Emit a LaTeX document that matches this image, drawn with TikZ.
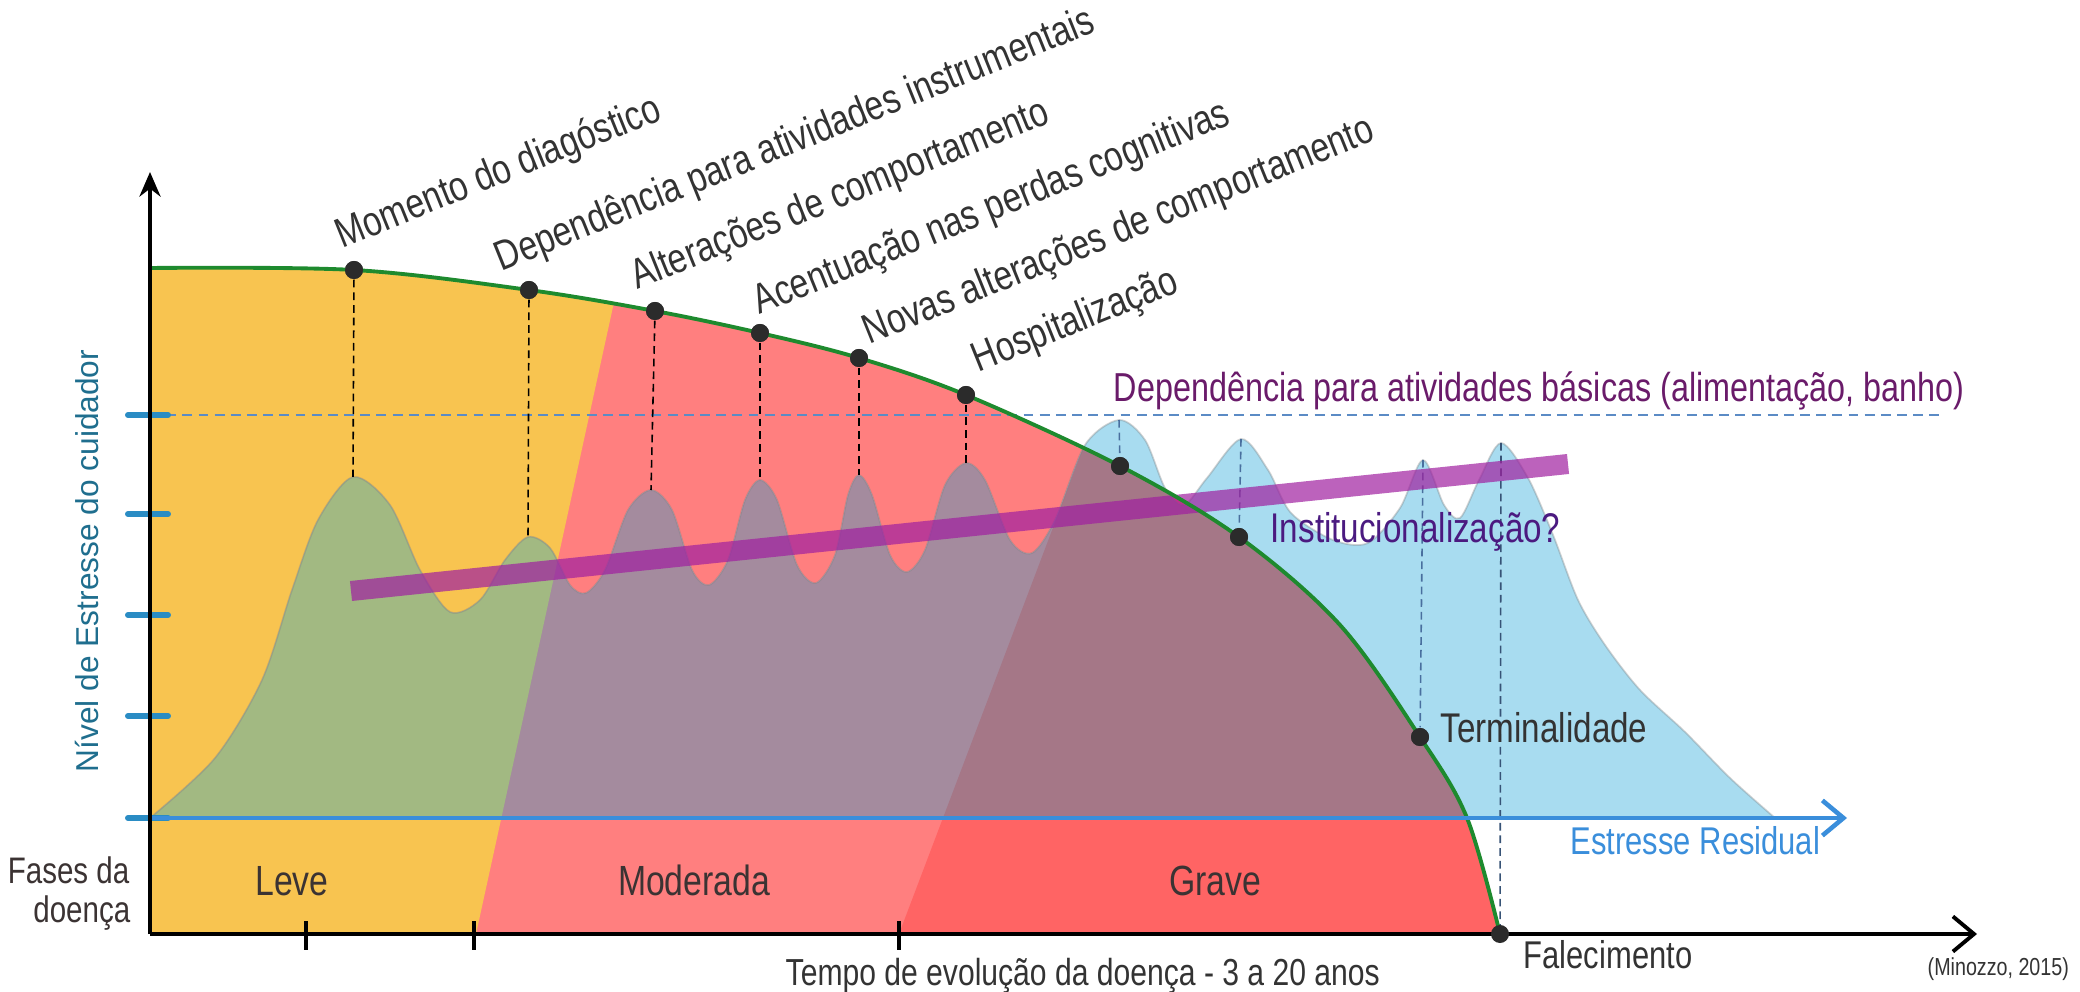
\documentclass[tikz,border=0pt]{standalone}
\usepackage{fontspec}
\setmainfont{Liberation Sans}
\newfontfamily\condfont[FakeStretch=0.8]{Liberation Sans}
\usepackage{tikz}
\usetikzlibrary{arrows.meta,positioning}
\usepackage{xcolor}
\definecolor{leve}{HTML}{F8C450}
\definecolor{moderada}{HTML}{FF7F7F}
\definecolor{grave}{HTML}{FF6464}
\definecolor{stressblue}{HTML}{A8DCF0}
\definecolor{stressgreen}{HTML}{A2B982}
\definecolor{stressmauve}{HTML}{A48B9E}
\definecolor{stressdark}{HTML}{A57787}
\definecolor{curvegreen}{HTML}{1E8A2E}
\definecolor{axisblue}{HTML}{3A8EDB}
\definecolor{tickblue}{HTML}{2A8CC4}
\definecolor{ylabelblue}{HTML}{1F6E8E}
\definecolor{dashblue}{HTML}{5B8BC5}
\definecolor{bandpurple}{HTML}{A020A0}
\definecolor{txtpurple}{HTML}{6A1B6A}
\definecolor{txtviolet}{HTML}{4B1A80}
\definecolor{txtdark}{HTML}{333333}
\definecolor{txtphase}{HTML}{3B3333}
\definecolor{dotgray}{HTML}{2B2B2B}
\newcommand{\lblfont}[1]{\condfont\fontsize{#1}{#1}\selectfont}

\begin{document}
\begin{tikzpicture}[x=0.01cm,y=-0.01cm,>={Straight Barb[length=6pt,width=10pt]},
  dot/.style={circle,fill=dotgray,inner sep=0pt,minimum size=0.18cm},
  evt/.style={rotate=22,anchor=base west,inner sep=0pt,font=\lblfont{11.9},text=txtdark},
  lbl/.style={anchor=base west,inner sep=0pt,font=\lblfont{11}},
  phase/.style={anchor=base,inner sep=0pt,font=\lblfont{12},text=txtphase}]
\useasboundingbox (0,0) rectangle (2080,992);

% curva da doenca e area de estresse
\def\greencurve{plot[smooth,tension=0.55] coordinates {(150,268) (354,270) (529,290) (655,311) (760,333) (859,358) (966,395) (1120,466) (1239,537) (1340,625) (1420,737) (1467,818) (1500,934)}}
\edef\areapath{(150,934) -- \greencurve -- cycle}
\def\stresspath{(150,818) -- plot[smooth,tension=0.5] coordinates {(150,818) (215,758) (262,680) (292,590) (318,520) (353,477) (390,505) (420,570) (450,612) (480,600) (505,560) (528,537) (550,548) (570,585) (586,593) (605,570) (628,510) (651,490) (672,510) (692,570) (709,585) (728,560) (745,500) (760,480) (777,500) (797,565) (816,583) (835,555) (848,495) (859,475) (872,495) (890,555) (907,572) (925,550) (945,485) (966,463) (985,480) (1010,540) (1032,553) (1055,520) (1085,445) (1119,420) (1145,440) (1165,488) (1184,505) (1207,478) (1241,439) (1268,470) (1291,513) (1333,540) (1368,543) (1400,508) (1423,460) (1444,505) (1460,518) (1479,480) (1501,443) (1528,478) (1553,535) (1578,600) (1605,645) (1640,690) (1685,732) (1730,778) (1775,818)} -- cycle}
\def\leveclip{(0,0) -- (680,0) -- (476,934) -- (0,934) -- cycle}
\def\graveclip{(1253,0) -- (899,934) -- (2080,934) -- (2080,0) -- cycle}

% fases
\fill[moderada] \areapath;
\begin{scope}
  \clip \leveclip;
  \fill[leve] \areapath;
\end{scope}
\begin{scope}
  \clip \graveclip;
  \fill[grave] \areapath;
\end{scope}

% estresse
\begin{scope}
  \clip \stresspath;
  \fill[stressblue] (0,0) rectangle (2080,992);
  \clip \areapath;
  \fill[stressmauve] (0,0) rectangle (2080,992);
  \begin{scope}
    \clip \leveclip;
    \fill[stressgreen] (0,0) rectangle (2080,992);
  \end{scope}
  \begin{scope}
    \clip \graveclip;
    \fill[stressdark] (0,0) rectangle (2080,992);
  \end{scope}
\end{scope}
\draw[gray,opacity=0.35,line width=0.5pt] \stresspath;

% eixo do estresse
\coordinate (origin) at (150,818);
\coordinate (resid) at (1847,818);
\coordinate (ytop) at (150,415);
\coordinate (dashend) at (1940,415);
\draw[dashblue,line width=0.6pt,dash pattern=on 2.8pt off 1.8pt] (ytop) -- (dashend);

\foreach \y in {415,514,615,716,818}
  \draw[tickblue,line width=1.7pt,line cap=round] (128,\y) -- (168,\y);

% eventos
\node[dot] (diag) at (354,270) {};
\node[dot] (instr) at (529,290) {};
\node[dot] (comp) at (655,311) {};
\node[dot] (cogn) at (760,333) {};
\node[dot] (novas) at (859,358) {};
\node[dot] (hosp) at (966,395) {};
\node[dot] (basic) at (1120,466) {};
\node[dot] (inst) at (1239,537) {};
\node[dot] (term) at (1420,737) {};

\coordinate (pk1) at (353,477);
\coordinate (pk2) at (528,537);
\coordinate (pk3) at (651,490);
\coordinate (pk4) at (760,480);
\coordinate (pk5) at (859,475);
\coordinate (pk6) at (966,463);
\coordinate (pk7) at (1119,420);
\coordinate (pk8) at (1241,439);
\coordinate (pk9) at (1423,460);
\coordinate (pk10) at (1501,443);

\tikzset{vdash/.style={line width=0.45pt,dash pattern=on 2.2pt off 1.4pt}}
\draw[vdash,black] (diag) -- (pk1);
\draw[vdash,black] (instr) -- (pk2);
\draw[vdash,black] (comp) -- (pk3);
\draw[vdash,black] (cogn) -- (pk4);
\draw[vdash,black] (novas) -- (pk5);
\draw[vdash,black] (hosp) -- (pk6);
\draw[vdash,dashblue!80!black] (pk7) -- (basic);
\draw[vdash,dashblue!80!black] (pk8) -- (inst);
\draw[vdash,dashblue!80!black] (pk9) -- (term);
\draw[vdash,dashblue!60!black] (pk10) -- (1500,934);

% faixa de estresse medio
\coordinate (bandL) at (351,591);
\coordinate (bandR) at (1568,464);
\draw[bandpurple,opacity=0.7,line width=5.7pt] (bandL) -- (bandR);

\draw[curvegreen,line width=1.1pt] \greencurve;

% eixos
\draw[axisblue,line width=1.3pt,->] (origin) -- (resid);
\draw[tickblue,line width=1pt] (origin) -- (ytop);
\draw[black,line width=1.1pt,-{Stealth[length=7pt,width=6pt]}] (150,934) -- (150,172);
\draw[black,line width=1.1pt,->] (150,934) -- (1977,934);
\foreach \x in {306,474,899}
  \draw[black,line width=1.1pt] (\x,921) -- (\x,950);
\node[dot] (falec) at (1500,934) {};
\foreach \n in {diag,instr,comp,cogn,novas,hosp,basic,inst,term}
  \node[dot] at (\n) {};

% textos
\node[evt] at (342,249) {Momento do diagóstico};
\node[evt] at (501,272) {Dependência para atividades instrumentais};
\node[evt] at (637,290) {Alterações de comportamento};
\node[evt] at (759,315) {Acentuação nas perdas cognitivas};
\node[evt] at (869,345) {Novas alterações de comportamento};
\node[evt] at (978,373) {Hospitalização};
\node[lbl,text=txtpurple,font=\lblfont{11.5}] at (1113,402) {Dependência para atividades básicas (alimentação, banho)};
\node[lbl,text=txtviolet,font=\lblfont{11.8}] at (1270,543) {Institucionalização?};
\node[lbl,text=txtdark,font=\lblfont{11.8}] at (1440,742) {Terminalidade};
\node[lbl,text=axisblue] at (1570,854) {Estresse Residual};
\node[lbl,text=txtdark] at (1523,968) {Falecimento};
\node[lbl,text=txtdark,font=\lblfont{10.7}] at (785,985) {Tempo de evolução da doença - 3 a 20 anos};
\node[lbl,text=txtdark,font=\lblfont{7}] at (1927,975) {(Minozzo, 2015)};
\node[phase,anchor=base east,font=\lblfont{10.5}] at (130,883) {Fases da};
\node[phase,anchor=base east,font=\lblfont{10.5}] at (131,922) {doença};
\node[phase] at (292,895) {Leve};
\node[phase] at (694,895) {Moderada};
\node[phase] at (1215,895) {Grave};
\node[rotate=90,text=ylabelblue,font=\fontsize{9}{11}\selectfont,inner sep=0pt] at (87,561) {Nível de Estresse do cuidador};
\end{tikzpicture}
\end{document}
